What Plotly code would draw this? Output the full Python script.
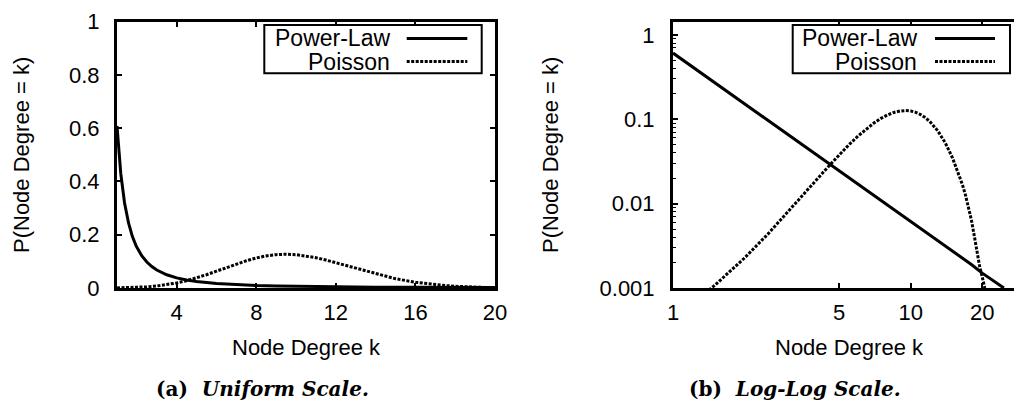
import math
import plotly.graph_objects as go

# ---- data ----
k_pl = [1, 1.19, 1.38, 1.58, 1.77, 1.96, 2.25, 2.5, 2.75, 3, 3.5, 4, 4.5, 5, 6, 7,
        8, 9, 10, 12, 14, 16, 18, 20, 22, 24.66]
p_pl = [0.608, 0.429, 0.319, 0.244, 0.194, 0.158, 0.120, 0.0973, 0.0804, 0.0676,
        0.0496, 0.038, 0.030, 0.0243, 0.0169, 0.0124, 0.0095, 0.0075, 0.0061,
        0.0042, 0.0031, 0.0024, 0.0019, 0.0015, 0.00126, 0.001]

k_po = [1, 1.25, 1.5, 1.75, 2, 2.5, 3, 3.5, 4, 4.5, 5, 5.5, 6, 6.5, 7, 7.5, 8,
        8.5, 9, 9.5, 10, 10.5, 11, 11.5, 12, 13, 14, 15, 16, 16.5, 17, 17.5, 18,
        18.5, 19, 19.5, 20, 20.3, 20.5]
p_po = [0.00045, 0.00071, 0.00108, 0.00159, 0.00227, 0.00432, 0.00757, 0.0123,
        0.0189, 0.0274, 0.0378, 0.0499, 0.0631, 0.0767, 0.0901, 0.1023, 0.1126,
        0.1204, 0.1251, 0.1267, 0.1251, 0.1207, 0.1137, 0.1049, 0.0948, 0.0729,
        0.0521, 0.0347, 0.0217, 0.0168, 0.0126, 0.0092, 0.0064, 0.0042, 0.0026,
        0.0018, 0.00135, 0.00112, 0.001]

series_names = ["Power-Law", "Poisson"]
x_title = "Node Degree k"
y_title = "P(Node Degree = k)"
captions = [("(a)", "Uniform Scale."), ("(b)", "Log-Log Scale.")]

lin_xticks = [4, 8, 12, 16, 20]
lin_yticks = [0, 0.2, 0.4, 0.6, 0.8, 1]
lin_yticktext = ["0", "0.2", "0.4", "0.6", "0.8", "1"]
log_xticks = [1, 5, 10, 20]
log_yticks = [0.001, 0.01, 0.1, 1]
log_yticktext = ["0.001", "0.01", "0.1", "1"]

# ---- layout helpers ----
W, H = 1014, 403
def px(x):
    return x / W
def py(y):
    return 1 - y / H

FONT = "Arial"
DOT = "3px,1.5px"

fig = go.Figure()
fig.add_trace(go.Scatter(x=k_pl, y=p_pl, mode="lines", name=series_names[0],
                         line=dict(color="black", width=3), xaxis="x", yaxis="y",
                         showlegend=False))
fig.add_trace(go.Scatter(x=k_po, y=p_po, mode="lines", name=series_names[1],
                         line=dict(color="black", width=3, dash=DOT), xaxis="x", yaxis="y",
                         showlegend=False))
fig.add_trace(go.Scatter(x=k_pl, y=p_pl, mode="lines", name=series_names[0],
                         line=dict(color="black", width=3), xaxis="x2", yaxis="y2",
                         showlegend=False))
fig.add_trace(go.Scatter(x=k_po, y=p_po, mode="lines", name=series_names[1],
                         line=dict(color="black", width=3, dash=DOT), xaxis="x2", yaxis="y2",
                         showlegend=False))

ax_common = dict(showline=True, linecolor="black", linewidth=3, showgrid=False,
                 zeroline=False, ticks="inside", ticklen=5, tickwidth=1.5,
                 tickcolor="black", automargin=False,
                 tickfont=dict(family=FONT, size=22, color="black"))

y0, y1 = py(288), py(21.5)
log_xend = (1014 - 673) / 237.7

fig.update_layout(
    width=W, height=H, margin=dict(l=0, r=0, t=0, b=0, pad=0, autoexpand=False),
    paper_bgcolor="white", plot_bgcolor="white", showlegend=False,
    xaxis=dict(domain=[px(117), px(495)], range=[1, 20], tickvals=lin_xticks,
               mirror="ticks", anchor="y", ticklabelstandoff=3, **ax_common),
    yaxis=dict(domain=[y0, y1], range=[0, 1], tickvals=lin_yticks,
               ticktext=lin_yticktext, mirror="ticks", anchor="x",
               ticklabelstandoff=10, **ax_common),
    xaxis2=dict(domain=[px(673), 1.0], type="log", range=[0, log_xend],
                tickvals=log_xticks, ticktext=[str(v) for v in log_xticks],
                mirror="ticks", anchor="y2", ticklabelstandoff=3, **ax_common),
    yaxis2=dict(domain=[y0, y1], type="log", range=[-3, 0.158],
                tickvals=log_yticks, ticktext=log_yticktext, mirror=False,
                anchor="x2", ticklabelstandoff=11,
                minor=dict(ticks="inside", ticklen=3, tickwidth=1.2, tickcolor="black",
                           tickvals=[m * 10 ** e for e in (-3, -2, -1) for m in range(2, 10)]),
                **ax_common),
)

annotations = []
shapes = []
tfont = dict(family=FONT, size=22, color="black")
lfont = dict(family=FONT, size=23, color="black")

for cx, ycx in ((306, 21), (849, 550)):
    annotations.append(dict(x=px(cx), y=py(347), xref="paper", yref="paper",
                            text=x_title, showarrow=False, font=tfont,
                            xanchor="center", yanchor="middle"))
    annotations.append(dict(x=px(ycx), y=py(155), xref="paper", yref="paper",
                            text=y_title, showarrow=False, font=tfont, textangle=-90,
                            xanchor="center", yanchor="middle"))

cap_font = dict(family="DejaVu Serif, serif", size=20, color="black")
for (lab, txt), cx in zip(captions, (262.5, 795)):
    annotations.append(dict(x=px(cx), y=py(389), xref="paper", yref="paper",
                            text=f"<b>{lab}  <i>{txt}</i></b>", showarrow=False,
                            font=cap_font, xanchor="center", yanchor="middle"))

# legends drawn as boxes with right-aligned labels and line samples
for bx0, bx1, tx, lx0, lx1 in ((264.3, 481.7, 391.7, 406.7, 467.3),
                               (792.7, 1010, 919.3, 935, 995)):
    shapes.append(dict(type="rect", xref="paper", yref="paper",
                       x0=px(bx0), x1=px(bx1), y0=py(73.3), y1=py(25),
                       line=dict(color="black", width=2), fillcolor="white"))
    for i, (name, yy) in enumerate(zip(series_names, (38.5, 61.5))):
        annotations.append(dict(x=px(tx), y=py(yy), xref="paper", yref="paper",
                                text=name, showarrow=False, font=lfont,
                                xanchor="right", yanchor="middle"))
        shapes.append(dict(type="line", xref="paper", yref="paper",
                           x0=px(lx0), x1=px(lx1), y0=py(yy), y1=py(yy),
                           line=dict(color="black", width=3,
                                     dash=None if i == 0 else DOT)))

fig.update_layout(annotations=annotations, shapes=shapes)
fig.write_html("out.html")
